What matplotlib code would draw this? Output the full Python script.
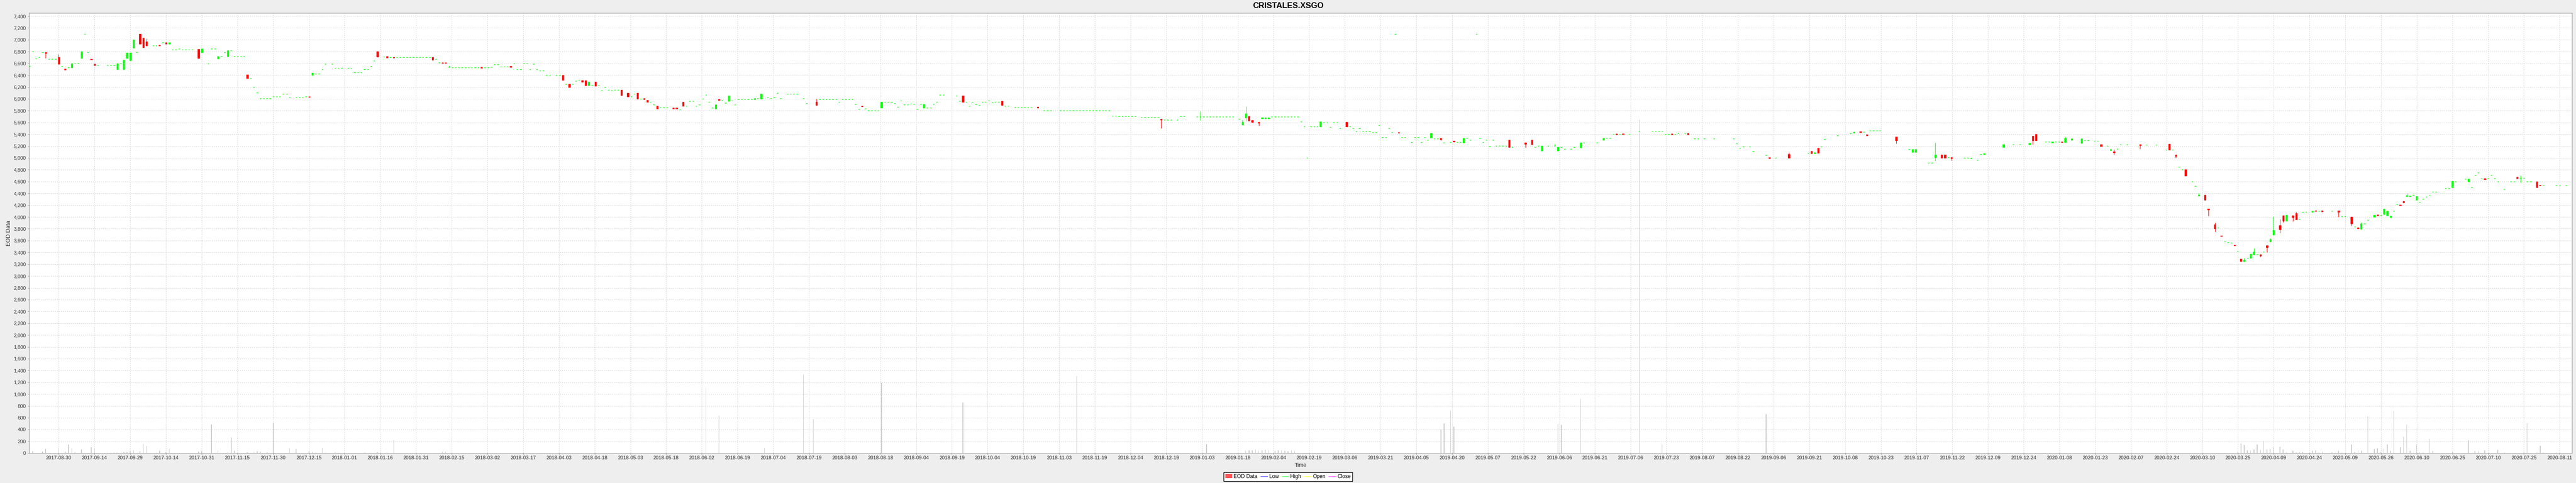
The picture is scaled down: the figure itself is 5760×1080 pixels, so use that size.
import numpy as np
import matplotlib
matplotlib.use("Agg")
import matplotlib.pyplot as plt
from matplotlib.lines import Line2D
from matplotlib.patches import Patch
from matplotlib.ticker import FuncFormatter

plt.rcParams['font.family'] = ['Liberation Sans', 'DejaVu Sans']

title = "CRISTALES.XSGO"
start = "2017-08-30"   # weekday timeline: day = weekdays since this date

tick_labels = [
    "2017-08-30", "2017-09-14", "2017-09-29", "2017-10-14", "2017-10-31", "2017-11-15",
    "2017-11-30", "2017-12-15", "2018-01-01", "2018-01-16", "2018-01-31", "2018-02-15",
    "2018-03-02", "2018-03-17", "2018-04-03", "2018-04-18", "2018-05-03", "2018-05-18",
    "2018-06-02", "2018-06-19", "2018-07-04", "2018-07-19", "2018-08-03", "2018-08-18",
    "2018-09-04", "2018-09-19", "2018-10-04", "2018-10-19", "2018-11-03", "2018-11-19",
    "2018-12-04", "2018-12-19", "2019-01-03", "2019-01-18", "2019-02-04", "2019-02-19",
    "2019-03-06", "2019-03-21", "2019-04-05", "2019-04-20", "2019-05-07", "2019-05-22",
    "2019-06-06", "2019-06-21", "2019-07-06", "2019-07-23", "2019-08-07", "2019-08-22",
    "2019-09-06", "2019-09-21", "2019-10-08", "2019-10-23", "2019-11-07", "2019-11-22",
    "2019-12-09", "2019-12-24", "2020-01-08", "2020-01-23", "2020-02-07", "2020-02-24",
    "2020-03-10", "2020-03-25", "2020-04-09", "2020-04-24", "2020-05-09", "2020-05-26",
    "2020-06-10", "2020-06-25", "2020-07-10", "2020-07-25", "2020-08-11",
]

# trading day (weekdays since start) and OHLC
day = [
    -9, -8, -7, -6, -5, -4, -3, -2, -1, 0,
    1, 2, 3, 4, 5, 6, 7, 8, 9, 10,
    11, 12, 15, 16, 17, 18, 19, 20, 21, 22,
    23, 24, 25, 26, 27, 29, 30, 31, 32, 33,
    34, 35, 36, 37, 38, 39, 40, 41, 43, 44,
    46, 47, 48, 49, 50, 51, 52, 53, 54, 55,
    56, 57, 58, 59, 60, 61, 62, 63, 64, 65,
    66, 67, 68, 69, 70, 71, 73, 74, 75, 76,
    77, 78, 79, 80, 81, 82, 84, 85, 86, 87,
    89, 90, 91, 92, 93, 94, 95, 96, 97, 98,
    100, 101, 102, 103, 104, 105, 106, 107, 108, 109,
    110, 111, 112, 113, 114, 115, 116, 117, 118, 119,
    120, 121, 122, 123, 124, 125, 126, 127, 128, 129,
    130, 131, 132, 133, 134, 135, 136, 137, 138, 139,
    140, 141, 142, 143, 144, 145, 146, 147, 148, 149,
    150, 151, 153, 154, 155, 156, 157, 158, 159, 160,
    161, 162, 163, 164, 165, 166, 167, 168, 169, 170,
    171, 172, 173, 175, 176, 177, 178, 179, 180, 181,
    182, 183, 184, 185, 186, 187, 189, 190, 191, 192,
    193, 194, 195, 196, 197, 198, 199, 200, 201, 202,
    203, 204, 205, 206, 207, 208, 209, 210, 211, 212,
    213, 214, 215, 216, 218, 219, 220, 221, 222, 224,
    225, 226, 227, 229, 230, 233, 234, 235, 236, 237,
    238, 239, 240, 241, 242, 243, 244, 245, 246, 247,
    248, 249, 250, 251, 252, 253, 254, 255, 256, 257,
    258, 259, 260, 261, 262, 263, 264, 265, 266, 267,
    268, 269, 270, 271, 272, 276, 277, 278, 279, 280,
    281, 282, 283, 284, 285, 286, 287, 288, 289, 290,
    291, 292, 294, 295, 296, 297, 298, 299, 301, 303,
    304, 305, 308, 309, 310, 311, 312, 313, 314, 315,
    316, 317, 318, 319, 320, 321, 322, 323, 324, 325,
    326, 327, 328, 329, 330, 331, 333, 334, 335, 336,
    337, 338, 339, 340, 341, 342, 344, 345, 346, 350,
    351, 352, 353, 354, 355, 356, 357, 358, 359, 360,
    361, 363, 364, 365, 366, 367, 369, 370, 371, 372,
    373, 374, 375, 376, 377, 378, 379, 380, 381, 382,
    383, 384, 385, 386, 387, 388, 389, 390, 391, 392,
    393, 394, 396, 397, 398, 399, 400, 401, 402, 403,
    404, 405, 406, 407, 408, 409, 410, 411, 412, 413,
    414, 416, 417, 418, 419, 420, 421, 422, 423, 424,
    425, 426, 428, 429, 430, 431, 432, 433, 434, 436,
    437, 438, 439, 440, 441, 442, 443, 444, 445, 446,
    447, 451, 453, 454, 455, 456, 458, 460, 461, 462,
    463, 465, 466, 468, 469, 473, 475, 476, 477, 478,
    479, 480, 481, 483, 486, 490, 491, 492, 493, 494,
    495, 496, 497, 498, 500, 501, 503, 504, 506, 509,
    515, 516, 517, 518, 520, 521, 525, 526, 528, 532,
    538, 539, 540, 541, 542, 543, 547, 551, 552, 554,
    555, 556, 557, 558, 559, 560, 565, 569, 570, 571,
    575, 576, 577, 579, 580, 581, 582, 586, 587, 588,
    590, 591, 592, 598, 601, 603, 606, 607, 608, 611,
    612, 613, 614, 615, 616, 617, 619, 622, 623, 624,
    626, 627, 628, 630, 631, 632, 633, 634, 636, 640,
    642, 645, 648, 649, 650, 651, 652, 653, 654, 656,
    657, 658, 660, 661, 663, 664, 665, 666, 667, 668,
    669, 670, 671, 672, 673, 674, 675, 676, 677, 678,
    679, 680, 681, 683, 684, 685, 687, 688, 689, 690,
    691, 693, 694, 695, 696, 699, 701, 702, 703, 705,
    706, 707, 708, 709, 710, 712, 713, 714, 715, 716,
    717, 718, 719, 720, 721, 722, 723, 724, 725, 726,
    727, 728, 729, 730, 731, 734, 735, 736, 737, 740,
    741, 742, 743, 744, 745, 746, 747, 748, 749, 750,
    752, 754, 755, 756, 757, 758, 759, 760, 762, 763,
    764, 768, 769, 771,
]

open_ = [
    6550, 6800, 6680, 6700, 6790, 6790, 6675, 6675, 6675, 6700,
    6550, 6505, 6530, 6530, 6600, 6600, 6690, 7100, 6790, 6675,
    6590, 6570, 6570, 6570, 6570, 6500, 6600, 6500, 6690, 6650,
    6860, 6790, 7100, 7030, 6970, 6900, 6900, 6910, 6950, 6950,
    6930, 6830, 6830, 6845, 6830, 6830, 6830, 6830, 6840, 6790,
    6600, 6845, 6845, 6680, 6720, 6790, 6720, 6815, 6720, 6720,
    6720, 6720, 6410, 6345, 6195, 6105, 6005, 6005, 6005, 6005,
    6040, 6040, 6040, 6080, 6080, 6020, 6020, 6020, 6020, 6040,
    6040, 6400, 6425, 6425, 6500, 6590, 6590, 6520, 6520, 6520,
    6520, 6520, 6445, 6445, 6445, 6500, 6500, 6550, 6640, 6800,
    6710, 6715, 6700, 6705, 6700, 6700, 6700, 6700, 6700, 6700,
    6700, 6700, 6700, 6700, 6700, 6700, 6670, 6610, 6615, 6615,
    6540, 6530, 6530, 6530, 6530, 6530, 6530, 6530, 6530, 6530,
    6535, 6530, 6530, 6540, 6580, 6580, 6545, 6545, 6545, 6550,
    6600, 6500, 6500, 6600, 6600, 6500, 6590, 6500, 6480, 6480,
    6400, 6400, 6400, 6400, 6400, 6250, 6250, 6250, 6300, 6320,
    6310, 6310, 6230, 6230, 6290, 6230, 6140, 6200, 6150, 6140,
    6150, 6150, 6150, 6100, 6040, 6080, 6100, 6000, 6005, 5980,
    5950, 5900, 5880, 5855, 5855, 5855, 5845, 5845, 5820, 5950,
    5880, 5960, 5960, 5875, 5900, 6000, 6070, 5950, 5845, 5830,
    5990, 5980, 5930, 5960, 5970, 5900, 5990, 5995, 5995, 5995,
    5995, 5990, 6010, 6000, 6020, 6010, 6020, 6100, 6010, 6080,
    6080, 6080, 6080, 6005, 5925, 5946, 5990, 5990, 5990, 5990,
    5990, 5990, 5950, 5995, 5995, 5995, 5995, 5905, 5825, 5880,
    5830, 5800, 5800, 5800, 5800, 5850, 5950, 5950, 5950, 5925,
    5865, 5970, 5900, 5900, 5915, 5905, 5825, 5905, 5850, 5850,
    5850, 5905, 5950, 6065, 6065, 6050, 5960, 6050, 5950, 5880,
    5950, 5910, 5895, 5950, 5950, 5970, 5950, 5950, 5950, 5960,
    5880, 5880, 5855, 5855, 5855, 5855, 5855, 5855, 5860, 5800,
    5800, 5800, 5800, 5800, 5800, 5800, 5800, 5800, 5800, 5800,
    5800, 5800, 5800, 5800, 5800, 5800, 5800, 5800, 5715, 5715,
    5705, 5705, 5705, 5705, 5705, 5705, 5690, 5690, 5690, 5690,
    5690, 5690, 5655, 5645, 5645, 5645, 5645, 5705, 5705, 5700,
    5700, 5700, 5700, 5700, 5700, 5700, 5700, 5700, 5700, 5700,
    5700, 5655, 5563, 5679, 5704, 5633, 5605, 5664, 5664, 5664,
    5700, 5700, 5700, 5700, 5700, 5700, 5700, 5700, 5700, 5615,
    5530, 5000, 5530, 5530, 5530, 5527, 5600, 5600, 5520, 5600,
    5600, 5500, 5608, 5527, 5500, 5445, 5500, 5450, 5450, 5450,
    5430, 5430, 5550, 5345, 5345, 5500, 5430, 7100, 5434, 5345,
    5345, 5262, 5346, 5346, 5262, 5346, 5300, 5343, 5328, 5328,
    5330, 5255, 5262, 5285, 5262, 5262, 5257, 5330, 5300, 7100,
    5330, 5262, 5300, 5197, 5300, 5202, 5202, 5202, 5202, 5305,
    5181, 5255, 5305, 5181, 5202, 5123, 5202, 5204, 5123, 5179,
    5154, 5154, 5179, 5174, 5255, 5255, 5305, 5333, 5333, 5401,
    5406, 5401, 5410, 5401, 5451, 5451, 5451, 5451, 5451, 5401,
    5401, 5406, 5401, 5414, 5414, 5416, 5323, 5323, 5323, 5323,
    5323, 5244, 5166, 5189, 5189, 5113, 5048, 5005, 5002, 5060,
    5073, 5111, 5073, 5166, 5186, 5318, 5378, 5414, 5424, 5444,
    5436, 5393, 5462, 5462, 5462, 5462, 5356, 5144, 5098, 5098,
    4916, 4916, 5010, 5053, 5053, 5005, 5005, 5000, 5000, 4992,
    4959, 5058, 5058, 5179, 5227, 5227, 5224, 5371, 5401, 5270,
    5270, 5255, 5270, 5271, 5275, 5268, 5306, 5246, 5293, 5293,
    5286, 5286, 5228, 5203, 5127, 5109, 5152, 5225, 5225, 5225,
    5218, 5218, 5134, 5235, 5134, 5054, 4852, 4801, 4801, 4602,
    4526, 4360, 4372, 4135, 3870, 3817, 3683, 3585, 3567, 3559,
    3524, 3416, 3292, 3249, 3307, 3307, 3363, 3363, 3363, 3408,
    3514, 3585, 3698, 3855, 4021, 3930, 4026, 4064, 3961, 4084,
    4084, 4080, 4104, 4102, 4104, 4097, 4104, 4006, 4006, 4004,
    3835, 3817, 3799, 3888, 3946, 4001, 4037, 4034, 4049, 4026,
    3996, 4102, 4211, 4208, 4264, 4350, 4347, 4372, 4291, 4251,
    4304, 4339, 4362, 4423, 4423, 4488, 4488, 4501, 4602, 4647,
    4599, 4501, 4703, 4753, 4655, 4652, 4652, 4703, 4652, 4602,
    4473, 4602, 4602, 4673, 4660, 4657, 4602, 4602, 4602, 4539,
    4531, 4531, 4531, 4531,
]

high = [
    6550, 6800, 6680, 6700, 6790, 6790, 6675, 6675, 6675, 6760,
    6550, 6505, 6530, 6600, 6600, 6600, 6800, 7100, 6790, 6675,
    6590, 6570, 6570, 6570, 6570, 6600, 6600, 6660, 6780, 6780,
    7000, 6790, 7100, 7030, 7020, 6900, 6900, 6910, 6950, 6950,
    6950, 6830, 6830, 6845, 6830, 6830, 6830, 6830, 6840, 6850,
    6600, 6845, 6845, 6720, 6720, 6790, 6820, 6815, 6720, 6720,
    6720, 6720, 6410, 6345, 6195, 6105, 6005, 6005, 6005, 6005,
    6040, 6040, 6040, 6080, 6080, 6020, 6020, 6020, 6020, 6040,
    6040, 6440, 6425, 6425, 6500, 6590, 6590, 6520, 6520, 6520,
    6520, 6520, 6445, 6445, 6445, 6500, 6500, 6550, 6640, 6800,
    6710, 6715, 6700, 6705, 6700, 6700, 6700, 6700, 6700, 6700,
    6700, 6700, 6700, 6700, 6700, 6700, 6670, 6610, 6615, 6615,
    6560, 6530, 6530, 6530, 6530, 6530, 6530, 6530, 6530, 6530,
    6535, 6530, 6530, 6540, 6580, 6580, 6545, 6545, 6545, 6550,
    6600, 6500, 6500, 6600, 6600, 6500, 6590, 6500, 6480, 6480,
    6400, 6400, 6400, 6400, 6400, 6250, 6250, 6250, 6300, 6320,
    6320, 6310, 6290, 6230, 6290, 6230, 6140, 6200, 6150, 6140,
    6150, 6150, 6150, 6100, 6040, 6080, 6100, 6000, 6005, 5980,
    5950, 5900, 5880, 5855, 5855, 5855, 5845, 5845, 5820, 5950,
    5880, 5960, 5960, 5875, 5900, 6000, 6070, 5950, 5845, 5900,
    5990, 5980, 5930, 6050, 5970, 5900, 5990, 5995, 5995, 5995,
    5995, 6010, 6010, 6080, 6020, 6010, 6020, 6100, 6010, 6080,
    6080, 6080, 6080, 6005, 5925, 6000, 5990, 5990, 5990, 5990,
    5990, 5990, 5950, 5995, 5995, 5995, 5995, 5905, 5825, 5880,
    5830, 5800, 5800, 5800, 5800, 5950, 5950, 5950, 5950, 5925,
    5865, 5970, 5900, 5900, 5915, 5905, 5825, 5905, 5906, 5850,
    5850, 5905, 5950, 6065, 6065, 6050, 5960, 6050, 5950, 5880,
    5950, 5910, 5895, 5950, 5950, 5970, 5950, 5950, 5950, 5960,
    5880, 5880, 5855, 5855, 5855, 5855, 5855, 5855, 5860, 5800,
    5800, 5800, 5800, 5800, 5800, 5800, 5800, 5800, 5800, 5800,
    5800, 5800, 5800, 5800, 5800, 5800, 5800, 5800, 5715, 5715,
    5705, 5705, 5705, 5705, 5705, 5705, 5690, 5690, 5690, 5690,
    5690, 5690, 5655, 5645, 5645, 5645, 5645, 5705, 5705, 5700,
    5785, 5700, 5700, 5700, 5700, 5700, 5700, 5700, 5700, 5700,
    5700, 5655, 5640, 5873, 5704, 5633, 5605, 5679, 5679, 5679,
    5700, 5700, 5700, 5700, 5700, 5700, 5700, 5700, 5700, 5615,
    5530, 5000, 5530, 5530, 5530, 5616, 5600, 5600, 5520, 5600,
    5600, 5500, 5608, 5527, 5500, 5445, 5500, 5450, 5450, 5450,
    5430, 5430, 5550, 5345, 5345, 5500, 5430, 7100, 5434, 5345,
    5345, 5262, 5346, 5346, 5262, 5346, 5300, 5420, 5328, 5328,
    5330, 5255, 5262, 5285, 5262, 5262, 5330, 5330, 5300, 7100,
    5330, 5262, 5300, 5197, 5300, 5202, 5202, 5202, 5202, 5305,
    5181, 5255, 5305, 5181, 5202, 5204, 5202, 5237, 5179, 5179,
    5154, 5154, 5179, 5255, 5255, 5255, 5335, 5333, 5333, 5401,
    5406, 5401, 5410, 5401, 5451, 5451, 5451, 5451, 5451, 5401,
    5401, 5406, 5401, 5414, 5414, 5416, 5323, 5323, 5323, 5323,
    5323, 5244, 5166, 5189, 5189, 5113, 5048, 5005, 5002, 5093,
    5073, 5111, 5091, 5166, 5186, 5318, 5378, 5414, 5441, 5444,
    5436, 5393, 5462, 5462, 5462, 5462, 5356, 5144, 5144, 5144,
    4916, 4916, 5255, 5053, 5053, 5005, 5005, 5000, 5000, 5002,
    4959, 5058, 5076, 5229, 5227, 5227, 5250, 5371, 5401, 5270,
    5270, 5270, 5270, 5271, 5275, 5359, 5326, 5326, 5293, 5293,
    5286, 5286, 5228, 5203, 5142, 5142, 5152, 5225, 5225, 5225,
    5218, 5218, 5134, 5235, 5134, 5054, 4852, 4801, 4801, 4602,
    4526, 4398, 4372, 4140, 3903, 3817, 3683, 3585, 3567, 3559,
    3524, 3416, 3292, 3305, 3307, 3370, 3469, 3363, 3363, 3408,
    3514, 3643, 4006, 3963, 4021, 4031, 4026, 4082, 3961, 4084,
    4084, 4102, 4104, 4102, 4104, 4097, 4104, 4006, 4006, 4004,
    3835, 3817, 3908, 3888, 3946, 4031, 4037, 4034, 4135, 4102,
    4014, 4102, 4211, 4208, 4264, 4400, 4357, 4372, 4352, 4251,
    4304, 4339, 4362, 4423, 4423, 4488, 4488, 4604, 4602, 4647,
    4645, 4501, 4703, 4753, 4655, 4652, 4652, 4703, 4652, 4602,
    4473, 4602, 4602, 4673, 4705, 4657, 4602, 4602, 4602, 4539,
    4531, 4531, 4531, 4531,
]

low = [
    6550, 6800, 6680, 6700, 6790, 6690, 6675, 6675, 6675, 6590,
    6550, 6495, 6530, 6530, 6600, 6600, 6690, 7100, 6790, 6665,
    6570, 6570, 6570, 6570, 6570, 6500, 6600, 6500, 6690, 6650,
    6860, 6790, 6930, 6870, 6900, 6900, 6900, 6900, 6950, 6930,
    6930, 6830, 6830, 6845, 6830, 6830, 6830, 6830, 6690, 6790,
    6600, 6845, 6845, 6680, 6720, 6790, 6720, 6815, 6720, 6720,
    6720, 6720, 6345, 6345, 6195, 6105, 6005, 6005, 6005, 6005,
    6040, 6040, 6040, 6080, 6080, 6020, 6020, 6020, 6020, 6040,
    6030, 6400, 6425, 6425, 6500, 6590, 6590, 6520, 6520, 6520,
    6520, 6520, 6445, 6445, 6445, 6500, 6500, 6550, 6640, 6710,
    6710, 6695, 6700, 6695, 6700, 6700, 6700, 6700, 6700, 6700,
    6700, 6700, 6700, 6700, 6700, 6660, 6670, 6610, 6605, 6605,
    6540, 6530, 6530, 6530, 6530, 6530, 6530, 6530, 6530, 6530,
    6525, 6530, 6530, 6540, 6580, 6580, 6545, 6545, 6545, 6540,
    6600, 6500, 6500, 6600, 6600, 6500, 6590, 6500, 6480, 6480,
    6400, 6400, 6400, 6400, 6320, 6250, 6200, 6250, 6300, 6320,
    6280, 6230, 6230, 6230, 6220, 6230, 6140, 6200, 6150, 6140,
    6150, 6150, 6060, 6040, 6040, 6080, 6000, 6000, 5995, 5950,
    5950, 5900, 5830, 5855, 5855, 5855, 5835, 5835, 5820, 5880,
    5880, 5960, 5960, 5875, 5900, 6000, 6070, 5950, 5845, 5830,
    5980, 5980, 5930, 5960, 5970, 5900, 5990, 5995, 5995, 5995,
    5995, 5990, 6010, 6000, 6020, 6010, 6020, 6100, 6010, 6080,
    6080, 6080, 6080, 6005, 5925, 5896, 5990, 5990, 5990, 5990,
    5990, 5990, 5950, 5995, 5995, 5995, 5995, 5905, 5825, 5870,
    5830, 5800, 5800, 5800, 5800, 5850, 5950, 5950, 5950, 5925,
    5865, 5970, 5900, 5900, 5915, 5905, 5825, 5905, 5850, 5850,
    5850, 5905, 5950, 6065, 6065, 6050, 5960, 5950, 5950, 5880,
    5950, 5910, 5895, 5950, 5950, 5970, 5950, 5950, 5950, 5895,
    5880, 5880, 5855, 5855, 5855, 5855, 5855, 5855, 5850, 5800,
    5800, 5800, 5800, 5800, 5800, 5800, 5800, 5800, 5800, 5800,
    5800, 5800, 5800, 5800, 5800, 5800, 5800, 5800, 5715, 5715,
    5705, 5705, 5705, 5705, 5705, 5705, 5690, 5690, 5690, 5690,
    5690, 5690, 5500, 5645, 5645, 5645, 5645, 5705, 5705, 5700,
    5635, 5700, 5700, 5700, 5700, 5700, 5700, 5700, 5700, 5700,
    5700, 5655, 5563, 5623, 5628, 5608, 5547, 5664, 5664, 5664,
    5700, 5700, 5700, 5700, 5700, 5700, 5700, 5700, 5700, 5615,
    5530, 5000, 5530, 5530, 5530, 5527, 5600, 5600, 5520, 5600,
    5600, 5500, 5527, 5527, 5500, 5445, 5500, 5450, 5450, 5450,
    5430, 5430, 5550, 5345, 5345, 5500, 5430, 7100, 5421, 5345,
    5345, 5262, 5346, 5346, 5262, 5346, 5300, 5343, 5328, 5328,
    5292, 5255, 5262, 5270, 5262, 5262, 5257, 5330, 5300, 7100,
    5330, 5262, 5300, 5197, 5300, 5202, 5202, 5202, 5202, 5180,
    5181, 5174, 5229, 5181, 5202, 5123, 5202, 5204, 5123, 5179,
    5154, 5154, 5179, 5174, 5255, 5255, 5305, 5333, 5333, 5401,
    5393, 5401, 5400, 5401, 5451, 5451, 5451, 5451, 5451, 5401,
    5401, 5396, 5401, 5414, 5414, 5396, 5323, 5323, 5323, 5323,
    5323, 5244, 5166, 5189, 5189, 5113, 5048, 4995, 5002, 4997,
    5073, 5073, 5073, 5085, 5186, 5318, 5378, 5414, 5424, 5431,
    5436, 5381, 5462, 5462, 5462, 5462, 5244, 5144, 5098, 5098,
    4916, 4916, 4947, 4997, 4997, 5005, 4957, 5000, 5000, 4992,
    4959, 5058, 5058, 5179, 5227, 5227, 5224, 5229, 5295, 5270,
    5270, 5255, 5270, 5271, 5265, 5268, 5306, 5246, 5293, 5293,
    5286, 5286, 5200, 5203, 5127, 5056, 5152, 5225, 5225, 5150,
    5218, 5218, 5134, 5134, 5134, 4998, 4852, 4801, 4700, 4602,
    4526, 4360, 4286, 4014, 3751, 3817, 3678, 3585, 3567, 3559,
    3514, 3416, 3252, 3243, 3307, 3307, 3358, 3363, 3327, 3408,
    3403, 3580, 3698, 3729, 3910, 3930, 3923, 3956, 3961, 4084,
    4084, 4080, 4097, 4102, 4094, 4097, 3999, 4006, 4006, 3850,
    3835, 3802, 3799, 3888, 3946, 4001, 4026, 4034, 4049, 4026,
    3996, 4102, 4211, 4200, 4239, 4350, 4347, 4372, 4291, 4251,
    4304, 4339, 4362, 4423, 4423, 4488, 4488, 4501, 4602, 4647,
    4599, 4501, 4703, 4753, 4655, 4640, 4652, 4703, 4652, 4602,
    4473, 4602, 4602, 4652, 4582, 4657, 4602, 4602, 4498, 4529,
    4531, 4531, 4531, 4531,
]

close = [
    6550, 6800, 6680, 6700, 6790, 6770, 6675, 6675, 6675, 6590,
    6550, 6495, 6530, 6600, 6600, 6600, 6800, 7100, 6790, 6665,
    6570, 6570, 6570, 6570, 6570, 6600, 6600, 6660, 6780, 6780,
    7000, 6790, 6930, 6870, 6900, 6900, 6900, 6900, 6950, 6930,
    6950, 6830, 6830, 6845, 6830, 6830, 6830, 6830, 6690, 6850,
    6600, 6845, 6845, 6720, 6720, 6790, 6820, 6815, 6720, 6720,
    6720, 6720, 6345, 6345, 6195, 6105, 6005, 6005, 6005, 6005,
    6040, 6040, 6040, 6080, 6080, 6020, 6020, 6020, 6020, 6040,
    6030, 6440, 6425, 6425, 6500, 6590, 6590, 6520, 6520, 6520,
    6520, 6520, 6445, 6445, 6445, 6500, 6500, 6550, 6640, 6710,
    6710, 6695, 6700, 6695, 6700, 6700, 6700, 6700, 6700, 6700,
    6700, 6700, 6700, 6700, 6700, 6660, 6670, 6610, 6605, 6605,
    6540, 6530, 6530, 6530, 6530, 6530, 6530, 6530, 6530, 6530,
    6525, 6530, 6530, 6540, 6580, 6580, 6545, 6545, 6545, 6540,
    6600, 6500, 6500, 6600, 6600, 6500, 6590, 6500, 6480, 6480,
    6400, 6400, 6400, 6400, 6320, 6250, 6200, 6250, 6300, 6320,
    6290, 6230, 6290, 6230, 6220, 6230, 6140, 6200, 6150, 6140,
    6150, 6150, 6060, 6040, 6040, 6080, 6000, 6000, 5995, 5950,
    5950, 5900, 5830, 5855, 5855, 5855, 5835, 5835, 5820, 5880,
    5880, 5960, 5960, 5875, 5900, 6000, 6070, 5950, 5845, 5900,
    5980, 5980, 5930, 6050, 5970, 5900, 5990, 5995, 5995, 5995,
    5995, 6010, 6010, 6080, 6020, 6010, 6020, 6100, 6010, 6080,
    6080, 6080, 6080, 6005, 5925, 5896, 5990, 5990, 5990, 5990,
    5990, 5990, 5950, 5995, 5995, 5995, 5995, 5905, 5825, 5870,
    5830, 5800, 5800, 5800, 5800, 5950, 5950, 5950, 5950, 5925,
    5865, 5970, 5900, 5900, 5915, 5905, 5825, 5905, 5906, 5850,
    5850, 5905, 5950, 6065, 6065, 6050, 5960, 5950, 5950, 5880,
    5950, 5910, 5895, 5950, 5950, 5970, 5950, 5950, 5950, 5895,
    5880, 5880, 5855, 5855, 5855, 5855, 5855, 5855, 5850, 5800,
    5800, 5800, 5800, 5800, 5800, 5800, 5800, 5800, 5800, 5800,
    5800, 5800, 5800, 5800, 5800, 5800, 5800, 5800, 5715, 5715,
    5705, 5705, 5705, 5705, 5705, 5705, 5690, 5690, 5690, 5690,
    5690, 5690, 5640, 5645, 5645, 5645, 5645, 5705, 5705, 5700,
    5700, 5700, 5700, 5700, 5700, 5700, 5700, 5700, 5700, 5700,
    5700, 5655, 5608, 5750, 5628, 5608, 5590, 5679, 5679, 5679,
    5700, 5700, 5700, 5700, 5700, 5700, 5700, 5700, 5700, 5615,
    5530, 5000, 5530, 5530, 5530, 5616, 5600, 5600, 5520, 5600,
    5600, 5500, 5527, 5527, 5500, 5445, 5500, 5450, 5450, 5450,
    5430, 5430, 5550, 5345, 5345, 5500, 5430, 7100, 5421, 5345,
    5345, 5262, 5346, 5346, 5262, 5346, 5300, 5414, 5328, 5328,
    5313, 5255, 5262, 5270, 5262, 5262, 5330, 5330, 5300, 7100,
    5330, 5262, 5300, 5197, 5300, 5202, 5202, 5202, 5202, 5180,
    5181, 5234, 5229, 5181, 5202, 5204, 5202, 5204, 5179, 5179,
    5154, 5154, 5179, 5255, 5255, 5255, 5335, 5333, 5333, 5401,
    5393, 5401, 5400, 5401, 5451, 5451, 5451, 5451, 5451, 5401,
    5401, 5396, 5401, 5414, 5414, 5396, 5323, 5323, 5323, 5323,
    5323, 5244, 5166, 5189, 5189, 5113, 5048, 4995, 5002, 4997,
    5073, 5073, 5091, 5085, 5186, 5318, 5378, 5414, 5441, 5431,
    5436, 5381, 5462, 5462, 5462, 5462, 5295, 5144, 5144, 5144,
    4916, 4916, 5053, 4997, 4997, 5005, 4992, 5000, 5000, 5002,
    4959, 5058, 5076, 5229, 5227, 5227, 5250, 5295, 5295, 5270,
    5270, 5270, 5270, 5271, 5265, 5334, 5326, 5326, 5293, 5293,
    5286, 5286, 5200, 5203, 5142, 5087, 5152, 5225, 5225, 5215,
    5218, 5218, 5134, 5134, 5134, 5028, 4852, 4801, 4700, 4602,
    4526, 4375, 4286, 4125, 3807, 3817, 3678, 3585, 3567, 3559,
    3514, 3416, 3252, 3269, 3307, 3370, 3408, 3363, 3345, 3408,
    3489, 3623, 3774, 3787, 3930, 4031, 3996, 3956, 3961, 4084,
    4084, 4102, 4097, 4102, 4094, 4097, 4084, 4006, 4006, 3888,
    3835, 3802, 3888, 3888, 3946, 4031, 4026, 4034, 4135, 4102,
    4014, 4102, 4211, 4200, 4239, 4362, 4357, 4372, 4352, 4251,
    4304, 4339, 4362, 4423, 4423, 4488, 4488, 4604, 4602, 4647,
    4645, 4501, 4703, 4753, 4655, 4640, 4652, 4703, 4652, 4602,
    4473, 4602, 4602, 4652, 4660, 4657, 4602, 4602, 4498, 4529,
    4531, 4531, 4531, 4531,
]

# traded volume, same weekday timeline
vol_day = [
    -8, -5, -4, 0, 2, 3, 4, 5, 7, 10, 11, 15, 16, 17, 18, 20, 21, 22, 23, 25,
    26, 27, 30, 31, 33, 34, 43, 44, 47, 49, 52, 53, 54, 58, 60, 61, 62, 64, 66, 71,
    73, 77, 78, 79, 81, 82, 85, 86, 94, 96, 98, 101, 103, 118, 119,
    199, 203, 217, 229, 232, 253, 278, 313,
    353, 365, 366, 367, 368, 369, 370, 371, 372, 374, 375, 376, 377, 378, 379, 380,
    425, 426, 428, 429, 461, 462, 468, 486, 493, 525,
    670, 671, 672, 673, 674, 675, 676, 677, 678, 679, 680, 681, 683, 684, 685, 687,
    688, 689, 690, 693, 694, 695, 696, 699, 701, 702, 705, 706, 707, 708, 710, 712,
    713, 714, 715, 716, 717, 718, 720, 721, 722, 723, 725, 726, 727, 729, 730, 736,
    741, 743, 744, 746, 750, 752, 758, 759, 762, 763, 764, 768,
]
volume = [
    33, 25, 71, 91, 25, 146, 83, 25, 60, 101, 76, 13, 13, 13, 13, 18, 18, 33, 50, 30,
    151, 126, 8, 40, 20, 71, 25, 30, 484, 50, 18, 268, 40, 20, 18, 30, 25, 18, 520, 81,
    71, 33, 25, 13, 91, 13, 18, 8, 13, 10, 15, 8, 222, 25, 25,
    1109, 639, 90, 1335, 580, 1194, 860, 1305,
    150, 40, 50, 45, 60, 40, 50, 55, 45, 40, 50, 45, 40, 35, 45, 30,
    400, 500, 720, 450, 497, 480, 915, 5643, 150, 662,
    25, 161, 139, 48, 50, 66, 149, 55, 207, 63, 73, 101, 111, 60, 18, 40,
    20, 20, 20, 43, 50, 10, 25, 18, 43, 10, 146, 15, 45, 40, 626, 71,
    76, 25, 81, 146, 40, 714, 101, 283, 484, 43, 146, 20, 13, 247, 40, 23,
    212, 40, 33, 48, 55, 10, 25, 512, 18, 126, 10, 10,
]

o = np.array(open_, float)
c = np.array(close, float)
h = np.maximum(np.array(high, float), np.maximum(o, c))
lo = np.minimum(np.array(low, float), np.minimum(o, c))
x = np.array(day, float)
col = np.where(c >= o, "#00ff00", "#ff0000")

W, H = 5760, 1080
fig = plt.figure(figsize=(W / 100, H / 100), dpi=100, facecolor="#eeeeee")
ax = fig.add_axes([65 / W, 1 - 1013.3 / H, (5751 - 65) / W, (1013.3 - 29.3) / H])
ax.set_facecolor("white")

# volume bars
ax.bar(vol_day, volume, width=0.22, color="#cccccc", linewidth=0, zorder=2)

# candles
ax.vlines(x, lo, h, colors=col, linewidth=0.8, zorder=3)
ax.bar(x, np.abs(c - o), bottom=np.minimum(o, c), width=0.45, color=col,
       edgecolor=col, linewidth=1.0, zorder=4)

end_day = np.busday_count(start, tick_labels[-1])
ax.set_xticks(np.linspace(0, end_day, len(tick_labels)))
ax.set_xticklabels(tick_labels)
ax.set_xlim(-9.12, 772.8)
ax.set_ylim(0, 7451)
ax.set_yticks(np.arange(0, 7401, 200))
ax.yaxis.set_major_formatter(FuncFormatter(lambda v, p: f"{int(v):,}"))

ax.grid(True, color="#d6d6d6", linestyle=(0, (2, 2)), linewidth=0.8, zorder=0)
ax.set_axisbelow(True)
for s in ax.spines.values():
    s.set_color("#a0a0a0")
    s.set_linewidth(1.0)
ax.tick_params(axis="both", length=2, width=0.8, color="#999999",
               labelsize=8, labelcolor="#333333")
ax.tick_params(axis="x", pad=2)
ax.tick_params(axis="y", pad=3)

fig.text(0.5, 1 - 13 / H, title, ha="center", va="center",
         fontsize=13, fontweight="bold", color="black")
fig.text(2908 / W, 1 - 1041 / H, "Time", ha="center", va="center", fontsize=9, color="#222222")
fig.text(20 / W, 1 - 521 / H, "EOD Data", ha="center", va="center", rotation=90,
         fontsize=9, color="#222222")

handles = [
    Patch(facecolor="#ff5555", edgecolor="none"),
    Line2D([], [], color="#5555ff", linewidth=1),
    Line2D([], [], color="#55ff55", linewidth=1),
    Line2D([], [], color="#ffff55", linewidth=1),
    Line2D([], [], color="#ff55ff", linewidth=1),
]
leg = fig.legend(handles, ["EOD Data", "Low", "High", "Open", "Close"], loc="center",
                 bbox_to_anchor=(0.5, 1 - 1066 / H), ncol=5, fontsize=8.5,
                 frameon=True, fancybox=False, edgecolor="black", facecolor="white",
                 framealpha=1, handlelength=1.3, handleheight=0.8, handletextpad=0.3,
                 columnspacing=0.6, borderpad=0.3)
leg.get_frame().set_linewidth(1.0)

fig.savefig("out.png", dpi=100, facecolor=fig.get_facecolor())
